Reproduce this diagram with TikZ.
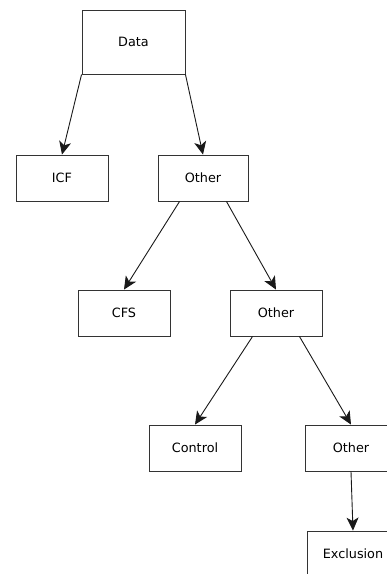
\documentclass[tikz,border=0pt]{standalone}
\usepackage{fontspec}
\setmainfont{DejaVu Sans}
\usetikzlibrary{arrows.meta}
\begin{document}
\begin{tikzpicture}[x=1pt,y=-1pt,
  box/.style={draw=black!80,line width=0.9pt,fill=white,rectangle,inner sep=0pt,
    minimum width=92pt,minimum height=46pt,font=\fontsize{12.8}{14}\selectfont},
  conn/.style={draw=black!90,line width=0.9pt,-{Stealth[length=13pt,width=12pt,inset=3.5pt]}}]
\useasboundingbox (0,0) rectangle (387,574);
\begin{scope}
\clip (0,0) rectangle (387,574);
\node[box,minimum width=103pt,minimum height=64pt] (data) at (133.5,42) {Data};
\node[box] (icf) at (62,178) {ICF};
\node[box,minimum width=90pt] (o1) at (203,178) {Other};
\node[box] (cfs) at (124,313) {CFS};
\node[box] (o2) at (276,313) {Other};
\node[box] (ctl) at (195,448) {Control};
\node[box] (o3) at (351,448) {Other};
\node[box] (exc) at (353,554) {Exclusion};
\draw[conn] (data.south west) -- (icf.north);
\draw[conn] (data.south east) -- (o1.north);
\draw[conn] ([xshift=22pt]o1.south west) -- (cfs.north);
\draw[conn] ([xshift=-22pt]o1.south east) -- (o2.north);
\draw[conn] ([xshift=23pt]o2.south west) -- (ctl.north);
\draw[conn] ([xshift=-23pt]o2.south east) -- (o3.north);
\draw[conn] (o3.south) -- (exc.north);
\end{scope}
\end{tikzpicture}
\end{document}
